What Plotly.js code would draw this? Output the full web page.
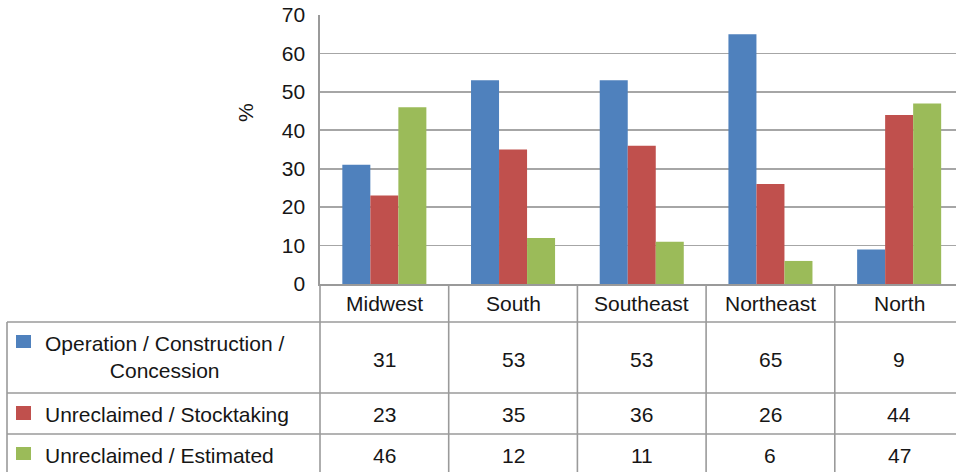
<!DOCTYPE html>
<html>
<head>
<meta charset="utf-8">
<script src="https://cdn.plot.ly/plotly-3.0.1.min.js"></script>
<style>html,body{margin:0;padding:0;background:#fff;}#chart{width:956px;height:472px;}</style>
</head>
<body>
<div id="chart"></div>
<script>
const categories = ["Midwest", "South", "Southeast", "Northeast", "North"];
const seriesNames = ["Operation / Construction /<br>Concession", "Unreclaimed / Stocktaking", "Unreclaimed / Estimated"];
const operation = [31, 53, 53, 65, 9];
const stocktaking = [23, 35, 36, 26, 44];
const estimated = [46, 12, 11, 6, 47];
const colors = ["#4f81bd", "#c0504d", "#9bbb59"];
const yTicks = [0, 10, 20, 30, 40, 50, 60, 70];

const W = 956, H = 472;
const L = 320, T = 15, B = 188;
const plotW = W - L, plotH = H - T - B;
const catW = 128.7;
const px = x => (x - L) / plotW;
const py = y => (H - B - y) / plotH;

const series = [operation, stocktaking, estimated];
const traces = series.map((vals, i) => ({
  type: 'bar', x: categories, y: vals, name: seriesNames[i],
  marker: {color: colors[i]}, hoverinfo: 'none'
}));

const lineStyle = {color: '#9a9a9a', width: 1.6};
const shapes = [];
for (let k = 0; k <= categories.length; k++) {
  const x = L + k * catW;
  shapes.push({type: 'line', xref: 'paper', yref: 'paper', x0: px(x), x1: px(x), y0: py(284), y1: py(472), line: lineStyle});
}
[322, 393, 434].forEach(y => shapes.push({type: 'line', xref: 'paper', yref: 'paper', x0: px(7), x1: px(956), y0: py(y), y1: py(y), line: lineStyle}));
shapes.push({type: 'line', xref: 'paper', yref: 'paper', x0: px(7), x1: px(7), y0: py(322), y1: py(472), line: lineStyle});
const keyRows = [[335, 348], [406, 420], [447, 460]];
keyRows.forEach((r, i) => shapes.push({type: 'rect', xref: 'paper', yref: 'paper', x0: px(16), x1: px(31), y0: py(r[1]), y1: py(r[0]), fillcolor: colors[i], line: {width: 0}}));

const font = {family: 'Liberation Sans, Arial, sans-serif', size: 21, color: '#161616'};
const annotations = [];
categories.forEach((c, k) => {
  annotations.push({xref: 'x', yref: 'paper', x: k, y: py(303), text: c, showarrow: false, font: font, xanchor: 'center', yanchor: 'middle'});
});
const rowY = [356.5, 414, 455];
series.forEach((vals, i) => {
  annotations.push({xref: 'paper', yref: 'paper', x: px(43), y: py(rowY[i]), text: seriesNames[i], showarrow: false, font: font, xanchor: 'left', yanchor: 'middle', align: 'center'});
  vals.forEach((v, k) => {
    annotations.push({xref: 'x', yref: 'paper', x: k, y: py(rowY[i] + (i === 0 ? 3 : 0)), text: String(v), showarrow: false, font: font, xanchor: 'center', yanchor: 'middle'});
  });
});
annotations.push({xref: 'paper', yref: 'paper', x: px(246), y: py(113), text: '%', textangle: -90, showarrow: false, font: font, xanchor: 'center', yanchor: 'middle'});

const layout = {
  width: W, height: H,
  margin: {l: L, r: 0, t: T, b: B, pad: 0},
  paper_bgcolor: '#fff', plot_bgcolor: '#fff',
  showlegend: false,
  barmode: 'group', bargap: 0.347, bargroupgap: 0,
  font: font,
  xaxis: {type: 'category', range: [-0.5, -0.5 + plotW / catW], showticklabels: false, ticks: '', showgrid: false, showline: true, linecolor: '#9a9a9a', linewidth: 1.6, zeroline: false, fixedrange: true},
  yaxis: {range: [0, 70], tickvals: yTicks, ticktext: yTicks.map(String), ticks: 'outside', ticklen: 9, tickcolor: 'rgba(0,0,0,0)', tickfont: font, showgrid: true, gridcolor: '#a6a6a6', gridwidth: 1.6, showline: true, linecolor: '#9a9a9a', linewidth: 1.6, zeroline: false, fixedrange: true},
  shapes: shapes,
  annotations: annotations
};
Plotly.newPlot('chart', traces, layout, {displayModeBar: false, staticPlot: true});
</script>
</body>
</html>
